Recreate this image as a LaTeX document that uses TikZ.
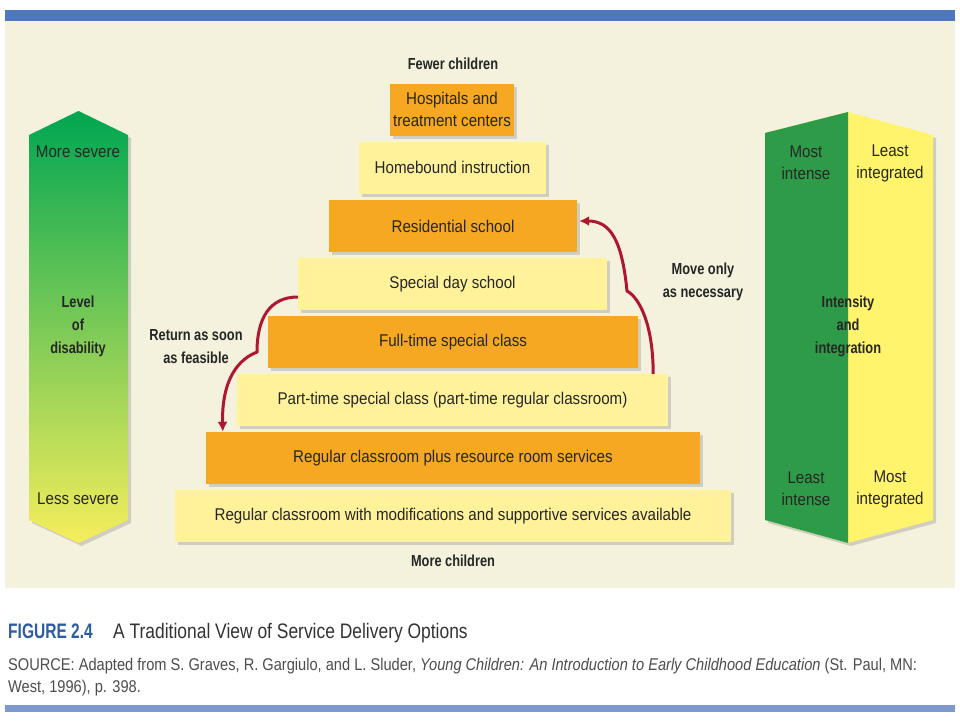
\documentclass[tikz,border=0pt]{standalone}
\usepackage{fontspec}
\setmainfont{Liberation Sans}[FakeStretch=0.89]
\newfontfamily\labelfont{Liberation Sans}[FakeStretch=0.8]
\newfontfamily\capfont{Liberation Sans}[FakeStretch=0.83]
\newfontfamily\figfont{Liberation Sans}[FakeStretch=0.74]
\newfontfamily\srcfont{Liberation Sans}[FakeStretch=0.86]
\usepackage{tikz}
\usetikzlibrary{shadows,arrows.meta}

\definecolor{panelbeige}{HTML}{F4F1DC}
\definecolor{barblue}{HTML}{4E78BD}
\definecolor{barlight}{HTML}{7D98CF}
\definecolor{tierorange}{HTML}{F7A823}
\definecolor{tieryellow}{HTML}{FFF29B}
\definecolor{arrowred}{HTML}{AE1730}
\definecolor{txtdark}{HTML}{262626}
\definecolor{sevgreen}{HTML}{00A651}
\definecolor{sevmid}{HTML}{7DC45A}
\definecolor{sevyellow}{HTML}{F6EE5C}
\definecolor{colgreen}{HTML}{2E9B48}
\definecolor{colyellow}{HTML}{FFF46B}
\definecolor{capblue}{HTML}{2D5CA6}
\definecolor{capgray}{HTML}{333333}
\definecolor{srcgray}{HTML}{4D4D4D}

\newcommand{\tiersize}{\fontsize{17}{22}\selectfont}
\newcommand{\boldsize}{\labelfont\bfseries\fontsize{16}{23}\selectfont}

\begin{document}
\begin{tikzpicture}[x=1pt,y=-1pt,
    tier_node/.style={inner sep=0pt, minimum height=52pt, align=center, text=txtdark, font=\tiersize,
        drop shadow={opacity=0.3, shadow xshift=3pt, shadow yshift=-3pt}},
    orange_node/.style={tier_node, fill=tierorange},
    yellow_node/.style={tier_node, fill=tieryellow},
    side_node/.style={inner sep=0pt, align=center, text=txtdark, font=\tiersize},
    bold_node/.style={inner sep=0pt, align=center, text=txtdark, font=\boldsize},
    red_arrow/.style={draw=arrowred, line width=3pt, -{Latex[length=10pt,width=10pt]}}]

    \useasboundingbox (0,0) rectangle (960,720);
    \fill[white] (0,0) rectangle (960,720);
    \fill[panelbeige] (5,21) rectangle (955,588);
    \fill[barblue] (5,10) rectangle (955,21);
    \fill[barlight] (5,705) rectangle (955,712);

    % left arrow
    \shade[top color=sevgreen, middle color=sevmid, bottom color=sevyellow,
        drop shadow={opacity=0.3, shadow xshift=3pt, shadow yshift=-3pt}]
        (29,135) -- (78.5,111) -- (128,135) -- (128,520) -- (78.5,543) -- (29,520) -- cycle;

    % right column
    \fill[colyellow, drop shadow={opacity=0.3, shadow xshift=3pt, shadow yshift=-3pt}]
        (765,133) -- (848,112) -- (933,135) -- (933,520) -- (848,543) -- (765,520) -- cycle;
    \fill[colgreen] (765,133) -- (848,112) -- (848,543) -- (765,520) -- cycle;

    \node[orange_node, minimum width=124pt] (1) at (452,109.5) {Hospitals and\\treatment centers};
    \node[yellow_node, minimum width=187pt] (2) at (452.5,167.5) {Homebound instruction};
    \node[orange_node, minimum width=248pt] (3) at (453,226) {Residential school};
    \node[yellow_node, minimum width=309pt] (4) at (452.5,284) {Special day school};
    \node[orange_node, minimum width=370pt] (5) at (453,342) {Full-time special class};
    \node[yellow_node, minimum width=431pt] (6) at (452.5,400) {Part-time special class (part-time regular classroom)};
    \node[orange_node, minimum width=494pt] (7) at (453,458) {Regular classroom plus resource room services};
    \node[yellow_node, minimum width=556pt] (8) at (453,516) {Regular classroom with modifications and supportive services available};

    \node[bold_node] (9)  at (453,64)  {Fewer children};
    \node[bold_node] (10) at (453,561) {More children};
    \node[bold_node] (11) at (196,347) {Return as soon\\as feasible};
    \node[bold_node] (12) at (703,282) {Move only\\as necessary};

    \node[side_node] (13) at (78,152) {More severe};
    \node[bold_node] (14) at (78,326) {Level\\of\\disability};
    \node[side_node] (15) at (78,499) {Less severe};

    \node[side_node] (16) at (806,163) {Most\\intense};
    \node[side_node] (17) at (890,163) {Least\\integrated};
    \node[bold_node] (18) at (848,326) {Intensity\\and\\integration};
    \node[side_node] (19) at (806,489) {Least\\intense};
    \node[side_node] (20) at (890,489) {Most\\integrated};

    \coordinate (c1) at (257,352);
    \coordinate (c2) at (627,291);
    \draw[red_arrow] ([yshift=-13pt]4.west) .. controls +(-28,0) and +(0,-34) .. (c1)
        .. controls +(-25,10) and +(-1,-43) .. ([xshift=17pt]7.north west);
    \draw[red_arrow] ([xshift=-15pt]6.north east) .. controls +(0,-48) and +(13,7) .. (c2)
        .. controls +(-5,-51) and +(31,0) .. ([xshift=2pt,yshift=5pt]3.east);

    % caption
    \node[anchor=base west, inner sep=0pt, text=capblue, font=\figfont\bfseries\fontsize{21}{25}\selectfont] (21) at (8,638) {FIGURE 2.4};
    \node[anchor=base west, inner sep=0pt, text=capgray, font=\capfont\fontsize{21}{25}\selectfont] (22) at (113,638) {A Traditional View of Service Delivery Options};
    \node[anchor=base west, inner sep=0pt, text=srcgray, font=\srcfont\fontsize{17}{21}\selectfont] (23) at (8,670)
        {SOURCE: Adapted from S. Graves, R. Gargiulo, and L. Sluder, \textit{Young Children: An Introduction to Early Childhood Education} (St. Paul, MN:};
    \node[anchor=base west, inner sep=0pt, text=srcgray, font=\srcfont\fontsize{17}{21}\selectfont] (24) at (8,692) {West, 1996), p. 398.};

\end{tikzpicture}
\end{document}
